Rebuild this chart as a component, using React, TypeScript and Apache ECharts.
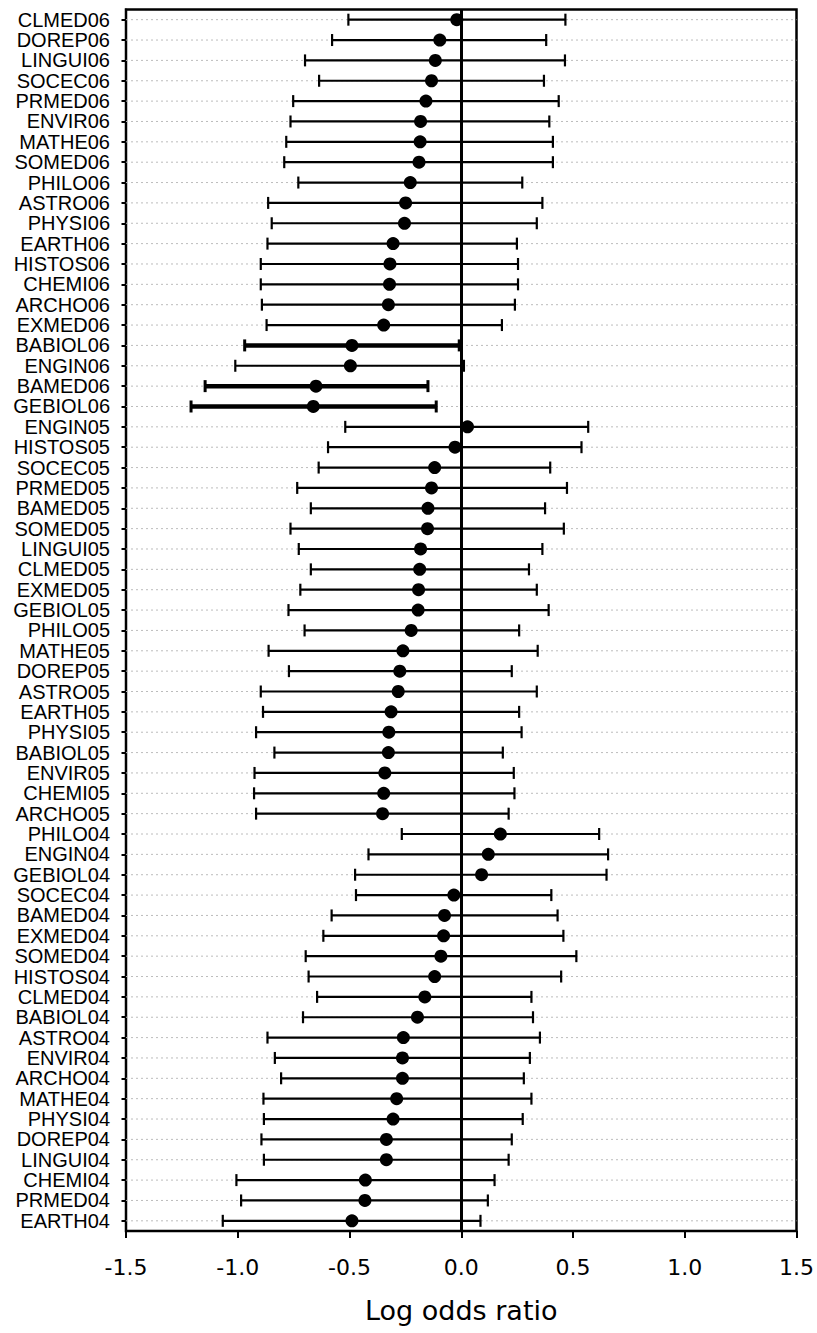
import React, { useEffect, useRef } from "react";
import * as echarts from "echarts";

const categories = [
  "CLMED06", "DOREP06", "LINGUI06", "SOCEC06", "PRMED06", "ENVIR06", "MATHE06", "SOMED06", "PHILO06", "ASTRO06",
  "PHYSI06", "EARTH06", "HISTOS06", "CHEMI06", "ARCHO06", "EXMED06", "BABIOL06", "ENGIN06", "BAMED06", "GEBIOL06",
  "ENGIN05", "HISTOS05", "SOCEC05", "PRMED05", "BAMED05", "SOMED05", "LINGUI05", "CLMED05", "EXMED05", "GEBIOL05",
  "PHILO05", "MATHE05", "DOREP05", "ASTRO05", "EARTH05", "PHYSI05", "BABIOL05", "ENVIR05", "CHEMI05", "ARCHO05",
  "PHILO04", "ENGIN04", "GEBIOL04", "SOCEC04", "BAMED04", "EXMED04", "SOMED04", "HISTOS04", "CLMED04", "BABIOL04",
  "ASTRO04", "ENVIR04", "ARCHO04", "MATHE04", "PHYSI04", "DOREP04", "LINGUI04", "CHEMI04", "PRMED04", "EARTH04",
];

const estimates = [
  -0.02, -0.096, -0.116, -0.133, -0.158, -0.182, -0.184, -0.189, -0.228, -0.249,
  -0.254, -0.305, -0.319, -0.321, -0.326, -0.347, -0.489, -0.496, -0.65, -0.662,
  0.028, -0.028, -0.119, -0.133, -0.149, -0.151, -0.182, -0.186, -0.191, -0.193,
  -0.224, -0.261, -0.275, -0.282, -0.314, -0.324, -0.326, -0.342, -0.347, -0.352,
  0.175, 0.121, 0.091, -0.033, -0.075, -0.079, -0.091, -0.119, -0.163, -0.196,
  -0.259, -0.263, -0.263, -0.289, -0.305, -0.335, -0.335, -0.429, -0.431, -0.489,
];

const lower = [
  -0.505, -0.578, -0.699, -0.636, -0.752, -0.764, -0.783, -0.792, -0.729, -0.864,
  -0.848, -0.867, -0.897, -0.897, -0.892, -0.871, -0.969, -1.011, -1.146, -1.209,
  -0.519, -0.596, -0.638, -0.734, -0.673, -0.764, -0.727, -0.673, -0.72, -0.773,
  -0.701, -0.862, -0.771, -0.897, -0.887, -0.918, -0.836, -0.925, -0.927, -0.918,
  -0.266, -0.415, -0.475, -0.471, -0.58, -0.617, -0.696, -0.683, -0.645, -0.708,
  -0.867, -0.834, -0.806, -0.885, -0.883, -0.894, -0.883, -1.006, -0.985, -1.067,
];

const upper = [
  0.466, 0.38, 0.464, 0.37, 0.436, 0.394, 0.41, 0.41, 0.273, 0.363,
  0.338, 0.249, 0.254, 0.254, 0.24, 0.182, -0.009, 0.012, -0.149, -0.112,
  0.568, 0.538, 0.398, 0.473, 0.375, 0.459, 0.363, 0.303, 0.338, 0.391,
  0.259, 0.342, 0.226, 0.338, 0.259, 0.27, 0.186, 0.235, 0.238, 0.212,
  0.617, 0.657, 0.65, 0.403, 0.431, 0.457, 0.515, 0.447, 0.314, 0.321,
  0.352, 0.307, 0.28, 0.314, 0.275, 0.226, 0.212, 0.149, 0.119, 0.086,
];

const boldRows = ["BABIOL06", "BAMED06", "GEBIOL06"];

const X_MIN = -1.5;
const X_MAX = 1.5;
const X_STEP = 0.5;

const LABEL_FONT = "'Liberation Sans', Arial, sans-serif";
const AXIS_FONT = "'DejaVu Sans', 'Liberation Sans', sans-serif";

export default function App() {
  const ref = useRef<HTMLDivElement>(null);

  useEffect(() => {
    if (!ref.current) return;
    const chart = echarts.init(ref.current, null, { renderer: "svg" });

    const gridData = categories.map((c) => [X_MIN, X_MAX, c]);
    const barData = categories.map((c, i) => [lower[i], upper[i], c, boldRows.includes(c) ? 1 : 0]);
    const pointData = categories.map((c, i) => [estimates[i], c]);

    const option: any = {
      animation: false,
      backgroundColor: "#fff",
      grid: {
        left: 126,
        right: 20,
        top: 9.5,
        bottom: 102,
        show: true,
        borderColor: "#000",
        borderWidth: 2.5,
        backgroundColor: "transparent",
      },
      xAxis: {
        type: "value",
        min: X_MIN,
        max: X_MAX,
        interval: X_STEP,
        axisLine: { show: true, lineStyle: { color: "#000", width: 2 } },
        axisTick: { show: true, length: 7, lineStyle: { color: "#000", width: 2 } },
        axisLabel: {
          show: true,
          color: "#000",
          fontSize: 22,
          fontFamily: AXIS_FONT,
          margin: 25,
          showMinLabel: true,
          showMaxLabel: true,
          formatter: (v: number) => v.toFixed(1),
        },
        splitLine: { show: false },
        name: "Log odds ratio",
        nameLocation: "middle",
        nameGap: 66,
        nameTextStyle: { color: "#000", fontSize: 27, fontFamily: AXIS_FONT },
      },
      yAxis: {
        type: "category",
        data: categories,
        inverse: true,
        boundaryGap: true,
        axisLine: { show: true, onZero: false, lineStyle: { color: "#000", width: 2 } },
        axisTick: { show: true, alignWithLabel: true, interval: 0, length: 4.5, lineStyle: { color: "#000", width: 2 } },
        axisLabel: {
          show: true,
          interval: 0,
          color: "#000",
          fontSize: 20,
          lineHeight: 20,
          fontFamily: LABEL_FONT,
          margin: 16,
        },
        splitLine: { show: false },
      },
      series: [
        {
          type: "custom",
          name: "grid",
          silent: true,
          z: 1,
          encode: { x: [0, 1], y: 2 },
          data: gridData,
          renderItem: (_p: any, api: any) => {
            const y = api.value(2);
            const a = api.coord([api.value(0), y]);
            const b = api.coord([api.value(1), y]);
            return {
              type: "line",
              shape: { x1: a[0], y1: a[1], x2: b[0], y2: b[1] },
              style: { stroke: "#bcbcbc", lineWidth: 1, lineDash: [2, 3] },
            };
          },
        },
        {
          type: "custom",
          name: "ci",
          silent: true,
          z: 3,
          encode: { x: [0, 1], y: 2 },
          data: barData,
          renderItem: (_p: any, api: any) => {
            const y = api.value(2);
            const a = api.coord([api.value(0), y]);
            const b = api.coord([api.value(1), y]);
            const bold = api.value(3) === 1;
            const w = bold ? 4.5 : 2.2;
            const cw = bold ? 3 : 2.2;
            const h = 6;
            return {
              type: "group",
              children: [
                { type: "line", shape: { x1: a[0], y1: a[1], x2: b[0], y2: b[1] }, style: { stroke: "#000", lineWidth: w } },
                { type: "line", shape: { x1: a[0], y1: a[1] - h, x2: a[0], y2: a[1] + h }, style: { stroke: "#000", lineWidth: cw } },
                { type: "line", shape: { x1: b[0], y1: b[1] - h, x2: b[0], y2: b[1] + h }, style: { stroke: "#000", lineWidth: cw } },
              ],
            };
          },
        },
        {
          type: "scatter",
          name: "estimate",
          z: 5,
          symbol: "circle",
          symbolSize: 13,
          itemStyle: { color: "#000", opacity: 1 },
          data: pointData,
          markLine: {
            silent: true,
            symbol: ["none", "none"],
            label: { show: false },
            lineStyle: { color: "#000", width: 3, type: "solid", opacity: 1 },
            data: [{ xAxis: 0 }],
          },
        },
      ],
    };

    chart.setOption(option);
    return () => chart.dispose();
  }, []);

  return (
    <div
      ref={ref}
      style={{ position: "absolute", left: 0, top: 0, width: 817, height: 1333, background: "#fff" }}
    />
  );
}
